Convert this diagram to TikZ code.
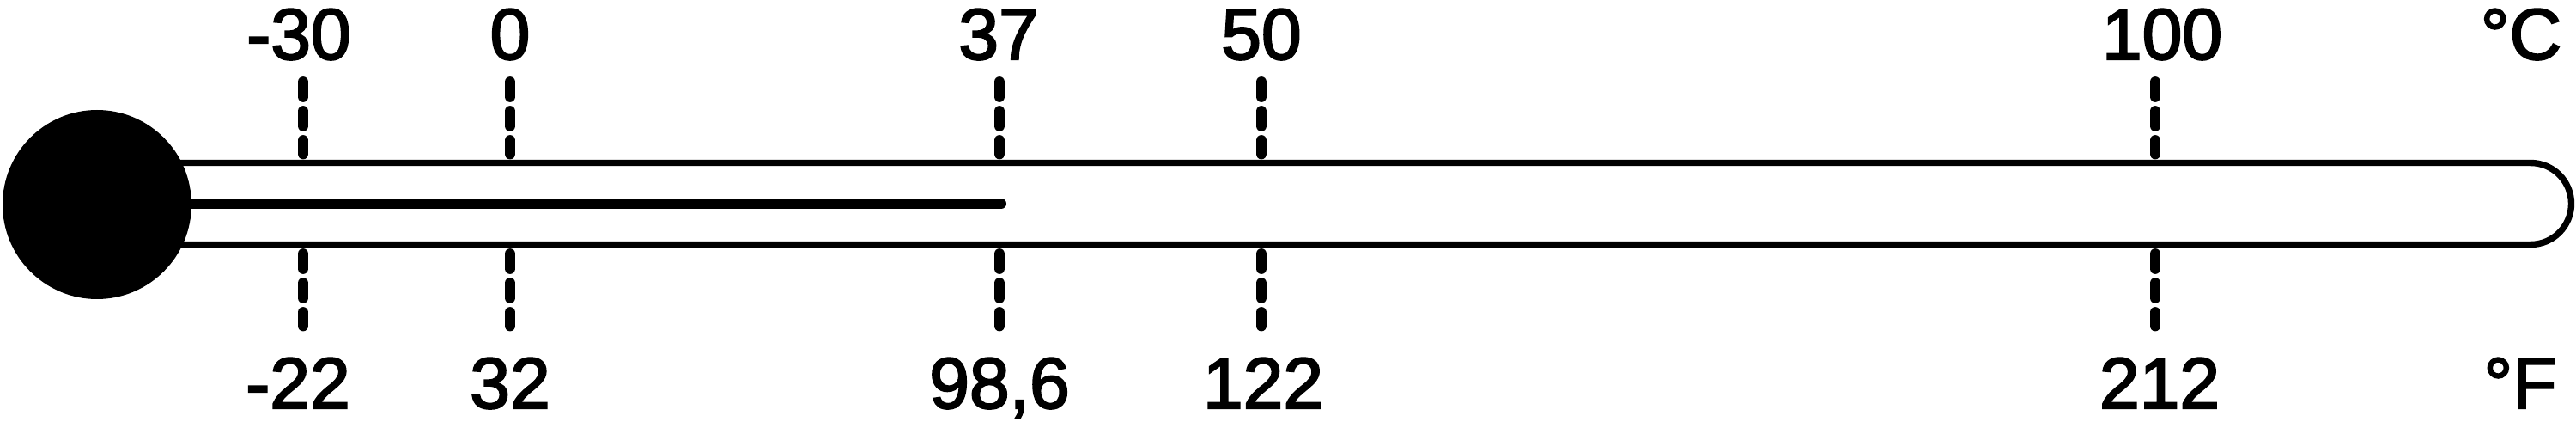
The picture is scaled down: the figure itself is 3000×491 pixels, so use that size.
\documentclass[tikz,border=0pt]{standalone}
\usepackage{fontspec}
\setmainfont{Liberation Sans}
\newfontfamily\labfont{Liberation Sans}[FakeBold=2.5]
\begin{document}
\begin{tikzpicture}[x=0.25pt,y=-0.25pt,
  tube/.style={line width=1.85pt},
  merc/.style={line width=3pt,line cap=round},
  tick/.style={line width=3.2pt,line cap=round,dash pattern=on 4.25pt off 4.25pt},
  lab/.style={anchor=base,inner sep=0pt,font=\labfont\fontsize{21}{25}\selectfont}]
\useasboundingbox (0,0) rectangle (3000,491);
% tube
\draw[tube] (113,189.5) -- (2947,189.5) arc[start angle=-90,end angle=90,radius=47.5] -- (113,284.5);
% mercury
\coordinate (m0) at (113,237);
\coordinate (m1) at (1166,237);
\draw[merc] (m0) -- (m1);
% bulb
\fill (113,238) circle[radius=110];
% ticks
\foreach \n/\x in {a/353,b/594,c/1164,d/1469,e/2510}{
  \coordinate (t\n1) at (\x,95.5);
  \coordinate (t\n2) at (\x,179);
  \coordinate (b\n1) at (\x,295.5);
  \coordinate (b\n2) at (\x,379);
  \draw[tick] (t\n1) -- (t\n2);
  \draw[tick] (b\n1) -- (b\n2);
}
% labels
\node[lab] (c1) at (348,69) {-30};
\node[lab] (c2) at (594,69) {0};
\node[lab] (c3) at (1163,69) {37};
\node[lab] (c4) at (1469,69) {50};
\node[lab] (c5) at (2518,69) {100};
\node[lab] (cu) at (2936,69) {°C};
\node[lab] (f1) at (347,475) {-22};
\node[lab] (f2) at (594,475) {32};
\node[lab] (f3) at (1164,475) {98,6};
\node[lab] (f4) at (1471,475) {122};
\node[lab] (f5) at (2515,475) {212};
\node[lab] (fu) at (2935,475) {°F};
\end{tikzpicture}
\end{document}
